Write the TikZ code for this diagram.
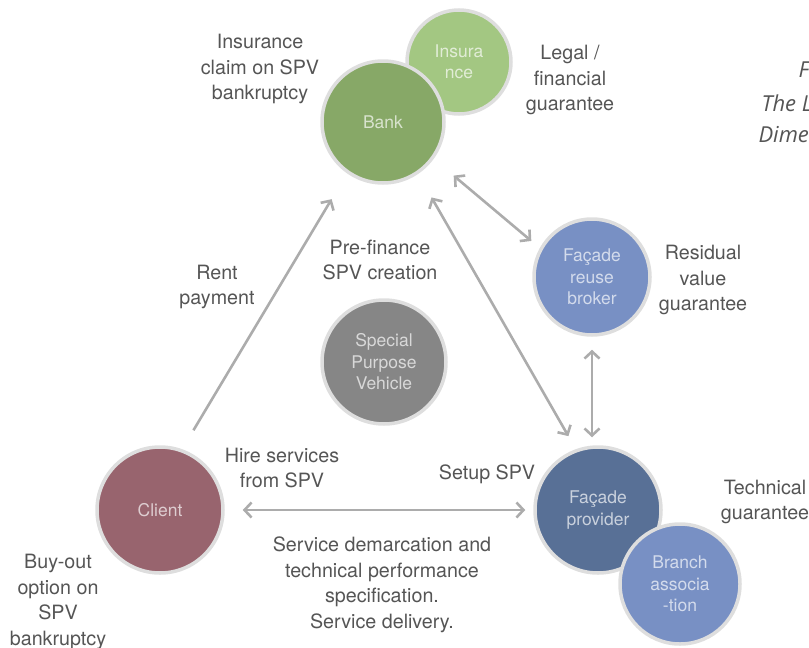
\documentclass[tikz,border=0pt]{standalone}
\usepackage{fontspec}
\setmainfont{TeX Gyre Heros}
\newfontfamily\notefont{Open Sans}
\usepackage{tikz}
\usetikzlibrary{arrows.meta}
\definecolor{bankgreen}{RGB}{135,168,103}
\definecolor{insgreen}{RGB}{163,199,130}
\definecolor{brokerblue}{RGB}{120,144,196}
\definecolor{provblue}{RGB}{88,112,150}
\definecolor{clientred}{RGB}{152,100,110}
\definecolor{spvgray}{RGB}{134,134,134}
\definecolor{rimgray}{RGB}{222,222,222}
\definecolor{flowgray}{RGB}{172,172,172}
\definecolor{textgray}{RGB}{85,85,85}
\tikzset{
  actor/.style={circle, draw=rimgray, line width=3.5pt, inner sep=0pt, align=center,
    text=white, text opacity=0.68, font=\fontsize{17.5}{21.5}\selectfont},
  note/.style={align=center, text=textgray, font=\fontsize{19.7}{25.5}\selectfont},
  flow/.style={draw=flowgray, line width=2.6pt}
}

\begin{document}
\begin{tikzpicture}[x=1pt, y=-1pt, >={Straight Barb[length=7pt,width=15pt]}]
\useasboundingbox (0,0) rectangle (809,648);
% actors
\node[actor, fill=insgreen, minimum size=104pt](ins) at (459,62) {Insura\\nce};
\node[actor, fill=bankgreen, minimum size=122pt](bank) at (383,122) {Bank};
\node[actor, fill=brokerblue, minimum size=116pt](broker) at (592,277) {Façade\\reuse\\broker};
\node[actor, fill=spvgray, minimum size=124pt](spv) at (384,362) {Special\\Purpose\\Vehicle};
\node[actor, fill=clientred, minimum size=126pt](client) at (160,510) {Client};
\node[actor, fill=provblue, minimum size=126pt](prov) at (598,510) {Façade\\provider};
\node[actor, fill=brokerblue, minimum size=120pt](branch) at (680,584) {Branch\\associa\\-tion};
%
\draw[flow, ->, shorten <=22pt, shorten >=30pt](client.70) -- (bank.235);
\draw[flow, <->, shorten <=27pt, shorten >=15pt](bank.-56) -- (prov.110);
\draw[flow, <->, shorten <=26pt, shorten >=11pt](bank.-36) -- (broker.151);
\draw[flow, <->, shorten <=13pt, shorten >=8pt](broker.south) -- (broker.south |- prov.north);
\draw[flow, <->, shorten <=18pt, shorten >=8pt](client.east) -- (client.east -| prov.west);
%
\node[note](claim) at (260,69) {Insurance\\claim on SPV\\bankruptcy};
\node[note](legal) at (570,80) {Legal /\\financial\\guarantee};
\node[note](rent) at (217,287) {Rent\\payment};
\node[note](prefin) at (380,260) {Pre-finance\\SPV creation};
\node[note](resid) at (703,280) {Residual\\value\\guarantee};
\node[note](hire) at (282,468) {Hire services\\from SPV};
\node[note](setup) at (487,474) {Setup SPV};
\node[note](tech) at (765,502) {Technical\\guarantee};
\node[note](deliv) at (382,585) {Service demarcation and\\technical performance\\specification.\\Service delivery.};
\node[note](buyout) at (58,602) {Buy-out\\option on\\SPV\\bankruptcy};
%
\node[anchor=west, text=textgray, font=\notefont\itshape\fontsize{22}{26}\selectfont](capa) at (795,70) {F};
\node[anchor=west, text=textgray, font=\notefont\itshape\fontsize{22}{26}\selectfont](capb) at (758,103) {The L};
\node[anchor=west, text=textgray, font=\notefont\itshape\fontsize{22}{26}\selectfont](capc) at (755,135) {Dime};
\end{tikzpicture}
\end{document}
